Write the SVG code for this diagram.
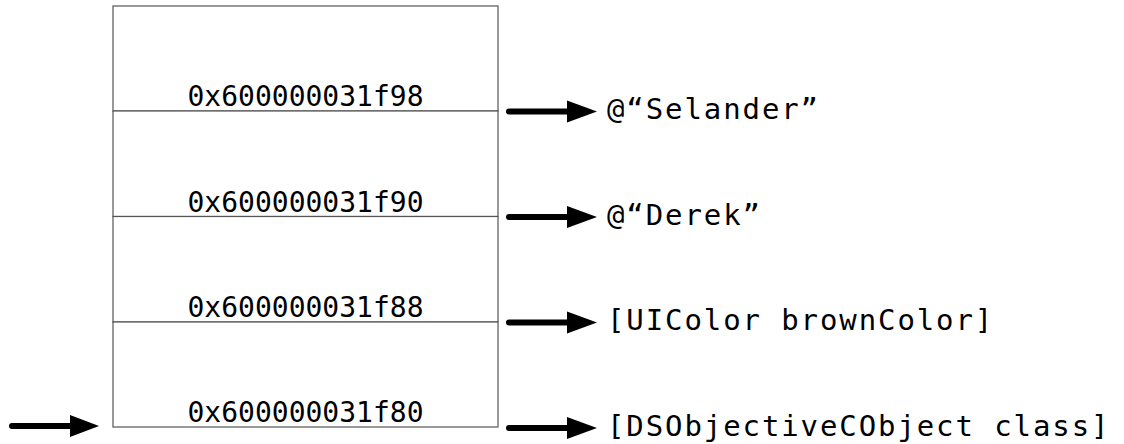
<svg xmlns="http://www.w3.org/2000/svg" width="1124" height="444" viewBox="0 0 1124 444">
  <style>
    .cell { fill: #ffffff; stroke: #555555; stroke-width: 1.2; }
    .addr { font-family: "DejaVu Sans Mono", "Liberation Mono", monospace; font-size: 28px; fill: #000; text-anchor: middle; }
    .lbl { font-family: "DejaVu Sans Mono", "Liberation Mono", monospace; font-size: 29px; fill: #000; letter-spacing: 1.9px; }
    .shaft { stroke: #000; stroke-width: 6; stroke-linecap: round; fill: none; }
    .head { fill: #000; }
  </style>
  <rect width="1124" height="444" fill="#ffffff"/>
  <g id="cell-f98">
    <rect class="cell" x="113" y="6" width="385" height="105"/>
    <text class="addr" x="305.5" y="106">0x600000031f98</text>
  </g>
  <g id="cell-f90">
    <rect class="cell" x="113" y="111" width="385" height="105.5"/>
    <text class="addr" x="305.5" y="211.5">0x600000031f90</text>
  </g>
  <g id="cell-f88">
    <rect class="cell" x="113" y="216.5" width="385" height="105.5"/>
    <text class="addr" x="305.5" y="317">0x600000031f88</text>
  </g>
  <g id="cell-f80">
    <rect class="cell" x="113" y="322" width="385" height="105"/>
    <text class="addr" x="305.5" y="422">0x600000031f80</text>
  </g>
  <g id="value-selander">
    <text class="lbl" x="607" y="119">@“Selander”</text>
  </g>
  <g id="value-derek">
    <text class="lbl" x="607" y="224.5">@“Derek”</text>
  </g>
  <g id="value-brown">
    <text class="lbl" x="607" y="330">[UIColor brownColor]</text>
  </g>
  <g id="value-class">
    <text class="lbl" x="607" y="435.5">[DSObjectiveCObject class]</text>
  </g>
  <g id="connectors">
    <line class="shaft" x1="509" y1="111.5" x2="572" y2="111.5"/>
    <polygon class="head" points="567,100.5 597,111.5 567,122.5"/>
    <line class="shaft" x1="509" y1="217" x2="572" y2="217"/>
    <polygon class="head" points="567,206 597,217 567,228"/>
    <line class="shaft" x1="509" y1="322.5" x2="572" y2="322.5"/>
    <polygon class="head" points="567,311.5 597,322.5 567,333.5"/>
    <line class="shaft" x1="509" y1="428" x2="572" y2="428"/>
    <polygon class="head" points="567,417 597,428 567,439"/>
    <line class="shaft" x1="12" y1="426" x2="75" y2="426"/>
    <polygon class="head" points="70,415 99,426 70,437"/>
  </g>
</svg>
